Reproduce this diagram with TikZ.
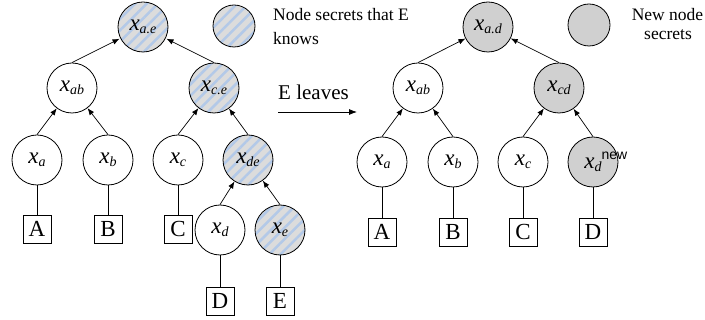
\documentclass[tikz,border=0pt]{standalone}
\usepackage{fontspec}
\setmainfont{Liberation Serif}[ItalicFont={Liberation Serif Italic},BoldFont={Liberation Serif Bold}]
\newfontfamily\arialf{Liberation Sans}
\usetikzlibrary{arrows.meta,patterns.meta}
\definecolor{hatchbg}{HTML}{DCDCDC}
\definecolor{hatchln}{HTML}{B3C9E8}
\definecolor{newgray}{HTML}{D0D0D0}
\newcommand{\xlab}[1]{{\fontsize{23}{23}\selectfont\itshape x\raisebox{-2.5pt}{\fontsize{14}{14}\selectfont\itshape #1}}}
\newcommand{\xnew}{{\fontsize{23}{23}\selectfont\itshape x\raisebox{-2.5pt}{\fontsize{14}{14}\selectfont\itshape d}\rlap{\raisebox{9pt}{\fontsize{14}{14}\arialf\upshape new}}}}
\begin{document}
\begin{tikzpicture}[x=1pt,y=-1pt,
  base/.style={circle,draw,line width=0.8pt,minimum size=50pt,inner sep=0pt},
  plain/.style={base,fill=white},
  hatch/.style={base,preaction={fill=hatchbg},pattern={Lines[angle=45,distance=8pt,line width=2.5pt]},pattern color=hatchln},
  newn/.style={base,fill=newgray},
  leaf/.style={draw,line width=0.9pt,minimum width=28pt,minimum height=28pt,inner sep=0pt,font=\fontsize{23}{23}\selectfont},
  up/.style={-{Latex[length=7pt,width=5.5pt]},line width=0.7pt},
  link/.style={line width=0.8pt},
  txt/.style={font=\fontsize{17.5}{20}\selectfont,inner sep=0pt}]
\useasboundingbox (0,0) rectangle (705,320);
% left tree
\node[hatch] (L0) at (143,27) {\xlab{a.e}};
\node[plain] (Lab) at (72,88) {\xlab{ab}};
\node[hatch] (Lce) at (214,88) {\xlab{c.e}};
\node[plain] (La) at (37,160) {\xlab{a}};
\node[plain] (Lb) at (108,160) {\xlab{b}};
\node[plain] (Lc) at (178,160) {\xlab{c}};
\node[hatch] (Lde) at (248,160) {\xlab{de}};
\node[plain] (Ld) at (220,230) {\xlab{d}};
\node[hatch] (Le) at (280,230) {\xlab{e}};
\node[leaf] (LA) at (37,229) {A};
\node[leaf] (LB) at (108,229) {B};
\node[leaf] (LC) at (178,229) {C};
\node[leaf] (LD) at (220,301) {D};
\node[leaf] (LE) at (280,301) {E};
\draw[up] (Lab.north) -- (L0);
\draw[up] (Lce.north) -- (L0);
\draw[up] (La.north) -- (Lab);
\draw[up] (Lb.north) -- (Lab);
\draw[up] (Lc.north) -- (Lce);
\draw[up] (Lde.north) -- (Lce);
\draw[up] (Ld.north) -- (Lde);
\draw[up] (Le.north) -- (Lde);
\draw[link] (La) -- (LA);
\draw[link] (Lb) -- (LB);
\draw[link] (Lc) -- (LC);
\draw[link] (Ld) -- (LD);
\draw[link] (Le) -- (LE);
% legend left
\node[hatch,minimum size=42pt] (legH) at (234,26) {};
\node[txt,anchor=base west] (legT1) at (273,20.5) {Node secrets that E};
\node[txt,anchor=base west] (legT2) at (273,44.5) {knows};
% transition arrow
\node[anchor=base west,inner sep=0pt,font=\fontsize{21}{21}\selectfont] (lv) at (278,100) {E leaves};
\coordinate (arS) at (278,112);
\coordinate (arE) at (357,112);
\draw[-{Latex[length=8pt,width=6pt]},line width=0.8pt] (arS) -- (arE);
% right tree
\node[newn] (R0) at (488,27) {\xlab{a.d}};
\node[plain] (Rab) at (418,88) {\xlab{ab}};
\node[newn] (Rcd) at (559,88) {\xlab{cd}};
\node[plain] (Ra) at (382,162) {\xlab{a}};
\node[plain] (Rb) at (453,162) {\xlab{b}};
\node[plain] (Rc) at (523,162) {\xlab{c}};
\node[newn] (Rd) at (593,162) {\xnew};
\node[leaf] (RA) at (382,232) {A};
\node[leaf] (RB) at (453,232) {B};
\node[leaf] (RC) at (523,232) {C};
\node[leaf] (RD) at (593,232) {D};
\draw[up] (Rab.north) -- (R0);
\draw[up] (Rcd.north) -- (R0);
\draw[up] (Ra.north) -- (Rab);
\draw[up] (Rb.north) -- (Rab);
\draw[up] (Rc.north) -- (Rcd);
\draw[up] (Rd.north) -- (Rcd);
\draw[link] (Ra) -- (RA);
\draw[link] (Rb) -- (RB);
\draw[link] (Rc) -- (RC);
\draw[link] (Rd) -- (RD);
% legend right
\node[newn,minimum size=42pt] (legN) at (589,25) {};
\node[txt,anchor=base] (legN1) at (667.5,20.5) {New node};
\node[txt,anchor=base] (legN2) at (668,39.5) {secrets};
\end{tikzpicture}
\end{document}
